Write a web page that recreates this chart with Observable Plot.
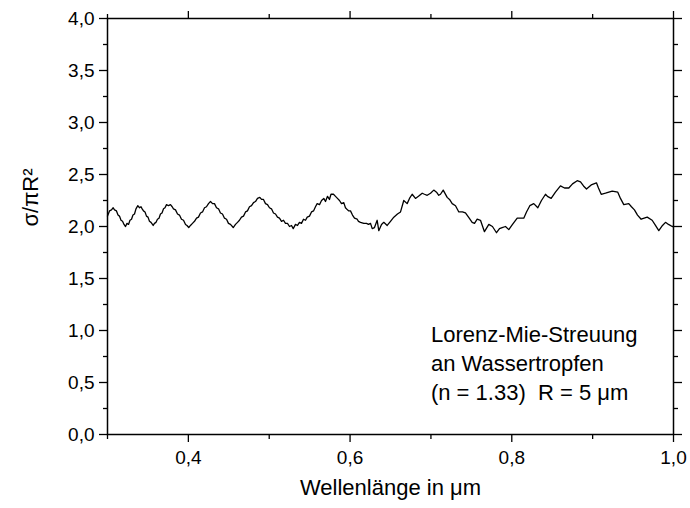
<!DOCTYPE html>
<html><head><meta charset="utf-8">
<script src="https://cdn.jsdelivr.net/npm/d3@7"></script>
<script src="https://cdn.jsdelivr.net/npm/@observablehq/plot@0.6"></script>
<style>body{margin:0;background:#fff}</style>
</head><body><div id="chart"></div>
<script>
const wavelength = [
0.3000,0.3025,0.3049,0.3070,0.3087,0.3111,0.3130,0.3148,0.3167,0.3186,0.3204,0.3223,0.3241,0.3260,0.3278,0.3297,0.3315,0.3334,0.3352,0.3375,
0.3396,0.3414,0.3429,0.3445,0.3464,0.3482,0.3501,0.3519,0.3538,0.3565,0.3581,0.3600,0.3618,0.3637,0.3655,0.3674,0.3693,0.3711,0.3730,0.3754,
0.3779,0.3800,0.3816,0.3841,0.3866,0.3890,0.3915,0.3940,0.3965,0.3983,0.4005,0.4026,0.4051,0.4076,0.4101,0.4125,0.4150,0.4175,0.4200,0.4224,
0.4249,0.4274,0.4299,0.4323,0.4348,0.4373,0.4397,0.4422,0.4447,0.4472,0.4496,0.4521,0.4555,0.4583,0.4608,0.4632,0.4657,0.4682,0.4707,0.4731,
0.4756,0.4781,0.4806,0.4830,0.4855,0.4884,0.4905,0.4929,0.4954,0.4979,0.5003,0.5028,0.5053,0.5078,0.5102,0.5127,0.5152,0.5177,0.5201,0.5226,
0.5251,0.5276,0.5297,0.5325,0.5350,0.5374,0.5399,0.5424,0.5449,0.5470,0.5498,0.5523,0.5548,0.5572,0.5593,0.5622,0.5647,0.5675,0.5696,0.5721,
0.5745,0.5764,0.5795,0.5820,0.5844,0.5869,0.5894,0.5922,0.5943,0.5968,0.5984,0.6005,0.6030,0.6055,0.6088,0.6104,0.6129,0.6170,0.6203,0.6228,
0.6253,0.6274,0.6302,0.6335,0.6355,0.6389,0.6417,0.6459,0.6500,0.6541,0.6586,0.6624,0.6664,0.6706,0.6735,0.6768,0.6809,0.6846,0.6892,0.6920,
0.6954,0.6995,0.7035,0.7069,0.7097,0.7118,0.7152,0.7201,0.7230,0.7263,0.7304,0.7345,0.7390,0.7427,0.7465,0.7510,0.7539,0.7572,0.7613,0.7662,
0.7716,0.7761,0.7811,0.7848,0.7881,0.7922,0.7963,0.8009,0.8067,0.8108,0.8148,0.8182,0.8223,0.8272,0.8322,0.8367,0.8417,0.8441,0.8487,0.8540,
0.8602,0.8652,0.8705,0.8751,0.8809,0.8850,0.8887,0.8924,0.8982,0.9047,0.9072,0.9106,0.9159,0.9242,0.9311,0.9344,0.9385,0.9447,0.9480,0.9517,
0.9555,0.9600,0.9675,0.9736,0.9777,0.9818,0.9864,0.9901,0.9938,0.9984,1.0000];
const sigma = [
2.10,2.15,2.16,2.18,2.16,2.15,2.11,2.10,2.06,2.05,2.02,2.00,2.03,2.02,2.06,2.07,2.11,2.12,2.17,2.20,
2.18,2.19,2.17,2.15,2.14,2.10,2.09,2.05,2.04,2.01,2.03,2.04,2.07,2.08,2.12,2.13,2.17,2.18,2.21,2.20,
2.21,2.19,2.17,2.16,2.12,2.11,2.07,2.06,2.02,2.01,1.99,2.01,2.03,2.05,2.08,2.09,2.13,2.14,2.18,2.19,
2.22,2.24,2.22,2.22,2.18,2.17,2.13,2.12,2.08,2.07,2.03,2.02,1.99,2.02,2.04,2.06,2.09,2.10,2.14,2.15,
2.19,2.20,2.23,2.24,2.27,2.28,2.26,2.26,2.22,2.21,2.18,2.17,2.13,2.12,2.09,2.08,2.05,2.06,2.03,2.03,
2.00,2.01,1.98,2.02,2.01,2.04,2.03,2.07,2.06,2.09,2.10,2.14,2.15,2.19,2.22,2.21,2.25,2.27,2.24,2.29,
2.26,2.31,2.31,2.29,2.27,2.25,2.22,2.23,2.18,2.16,2.15,2.15,2.11,2.08,2.07,2.05,2.04,2.03,2.03,2.02,
2.03,1.98,1.99,2.06,1.96,2.02,2.04,2.01,2.05,2.09,2.12,2.14,2.25,2.22,2.27,2.31,2.27,2.29,2.32,2.31,
2.30,2.32,2.35,2.33,2.30,2.31,2.35,2.28,2.26,2.22,2.20,2.14,2.14,2.13,2.09,2.04,2.03,2.07,2.06,1.95,
2.02,2.00,1.94,1.98,1.99,2.00,1.97,2.02,2.08,2.08,2.08,2.14,2.20,2.22,2.18,2.25,2.31,2.29,2.27,2.33,
2.39,2.37,2.37,2.41,2.44,2.43,2.39,2.36,2.40,2.42,2.37,2.31,2.32,2.34,2.33,2.27,2.21,2.22,2.19,2.16,
2.11,2.07,2.09,2.06,2.01,1.96,2.01,2.04,2.02,2.00,2.00];

const xMajorTicks = [0.4, 0.6, 0.8, 1.0];
const xMinorTicks = [0.3, 0.5, 0.7, 0.9];
const yMajorTicks = [0, 0.5, 1.0, 1.5, 2.0, 2.5, 3.0, 3.5, 4.0];
const yMinorTicks = [0.25, 0.75, 1.25, 1.75, 2.25, 2.75, 3.25, 3.75];
const xTitle = "Wellenlänge in μm";
const yTitle = "σ/πR²";
const annotationLines = ["Lorenz-Mie-Streuung", "an Wassertropfen", "(n = 1.33)  R = 5 μm"];
const annotationX = 0.70;
const annotationY = 0.70;

const data = wavelength.map((w, i) => ({w, s: sigma[i]}));
const fmt = d => d.toFixed(1).replace(".", ",");
const blank = () => "";
const font = "'Liberation Sans', Arial, sans-serif";

const chart = Plot.plot({
  width: 690, height: 508,
  marginLeft: 107, marginRight: 17, marginTop: 18, marginBottom: 74,
  style: {fontFamily: font, background: "#fff", color: "#000", overflow: "visible"},
  x: {domain: [0.3, 1.0]},
  y: {domain: [0, 4]},
  marks: [
    Plot.axisX(xMajorTicks, {anchor: "bottom", tickSize: 8, tickPadding: 8, tickFormat: fmt, fontSize: 19, label: null, strokeWidth: 1.3}),
    Plot.axisX(xMinorTicks, {anchor: "bottom", tickSize: 5, tickFormat: blank, label: null, strokeWidth: 1.3}),
    Plot.axisX(xMajorTicks, {anchor: "top", tickSize: 8, tickFormat: blank, label: null, strokeWidth: 1.3}),
    Plot.axisX(xMinorTicks, {anchor: "top", tickSize: 5, tickFormat: blank, label: null, strokeWidth: 1.3}),
    Plot.axisY(yMajorTicks, {anchor: "left", tickSize: 8, tickPadding: 5, tickFormat: fmt, fontSize: 19, label: null, strokeWidth: 1.3}),
    Plot.axisY(yMinorTicks, {anchor: "left", tickSize: 4, tickFormat: blank, label: null, strokeWidth: 1.3}),
    Plot.axisY(yMajorTicks, {anchor: "right", tickSize: 8, tickFormat: blank, label: null, strokeWidth: 1.3}),
    Plot.axisY(yMinorTicks, {anchor: "right", tickSize: 4, tickFormat: blank, label: null, strokeWidth: 1.3}),
    Plot.frame({stroke: "#000", strokeWidth: 1.5}),
    Plot.line(data, {x: "w", y: "s", stroke: "#000", strokeWidth: 1.3}),
    Plot.text([annotationLines.join("\n")], {x: annotationX, y: annotationY, text: d => d, textAnchor: "start", lineAnchor: "middle", lineHeight: 1.32, fontSize: 22, fill: "#000"}),
    Plot.text([xTitle], {frameAnchor: "bottom", text: d => d, dy: 60, fontSize: 22, fill: "#000"}),
    Plot.text([yTitle], {frameAnchor: "left", text: d => d, dx: -77, rotate: -90, fontSize: 22, fill: "#000"})
  ]
});
document.getElementById("chart").appendChild(chart);
</script>
</body></html>
